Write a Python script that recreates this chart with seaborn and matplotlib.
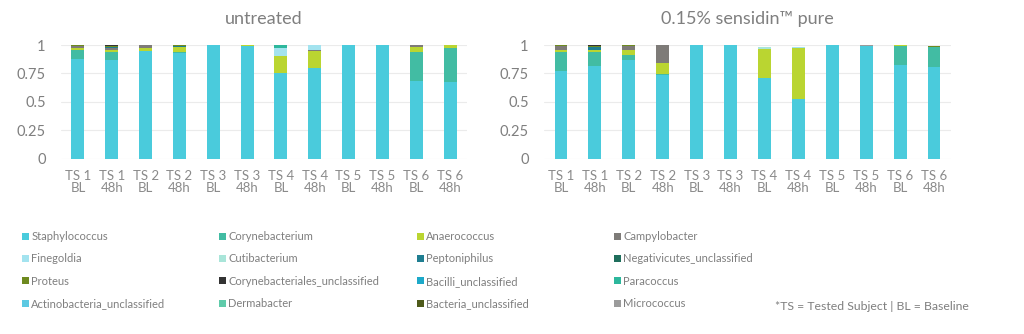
import numpy as np
import pandas as pd
import matplotlib
matplotlib.use("Agg")
import matplotlib.pyplot as plt
import seaborn as sns
from matplotlib.patches import Patch

# ---------------- data ----------------
samples = ["TS 1\nBL", "TS 1\n48h", "TS 2\nBL", "TS 2\n48h", "TS 3\nBL", "TS 3\n48h",
           "TS 4\nBL", "TS 4\n48h", "TS 5\nBL", "TS 5\n48h", "TS 6\nBL", "TS 6\n48h"]

species = ["Staphylococcus", "Corynebacterium", "Anaerococcus", "Campylobacter",
           "Finegoldia", "Cutibacterium", "Peptoniphilus", "Negativicutes_unclassified",
           "Proteus", "Corynebacteriales_unclassified", "Bacilli_unclassified", "Paracoccus",
           "Actinobacteria_unclassified", "Dermabacter", "Bacteria_unclassified", "Micrococcus"]

colors = ["#4ACBDC", "#42BCA3", "#BAD531", "#7E7B78",
          "#A3E3EF", "#A9E5D9", "#1F7E91", "#1F6E5C",
          "#6E8A1F", "#333333", "#1DA9C9", "#2DB79C",
          "#5CC9E2", "#5FCBAA", "#4E5A1A", "#9B9B9B"]

# untreated panel
u_staph   = [0.880, 0.870, 0.945, 0.930, 1.000, 0.990, 0.755, 0.795, 1.000, 1.000, 0.685, 0.675]
u_coryne  = [0.080, 0.065, 0.000, 0.010, 0.000, 0.000, 0.000, 0.000, 0.000, 0.000, 0.250, 0.300]
u_anaero  = [0.015, 0.020, 0.030, 0.040, 0.000, 0.010, 0.150, 0.155, 0.000, 0.000, 0.050, 0.025]
u_campy   = [0.012, 0.015, 0.025, 0.000, 0.000, 0.000, 0.000, 0.010, 0.000, 0.000, 0.015, 0.000]
u_finego  = [0.000, 0.000, 0.000, 0.000, 0.000, 0.000, 0.065, 0.040, 0.000, 0.000, 0.000, 0.000]
u_pepto   = [0.008, 0.010, 0.000, 0.010, 0.000, 0.000, 0.000, 0.000, 0.000, 0.000, 0.000, 0.000]
u_proteus = [0.005, 0.010, 0.000, 0.010, 0.000, 0.000, 0.000, 0.000, 0.000, 0.000, 0.000, 0.000]
u_corynu  = [0.000, 0.010, 0.000, 0.000, 0.000, 0.000, 0.000, 0.000, 0.000, 0.000, 0.000, 0.000]
u_paraco  = [0.000, 0.000, 0.000, 0.000, 0.000, 0.000, 0.030, 0.000, 0.000, 0.000, 0.000, 0.000]

# 0.15% sensidin pure panel
s_staph   = [0.775, 0.815, 0.870, 0.735, 1.000, 1.000, 0.705, 0.520, 1.000, 0.990, 0.825, 0.805]
s_coryne  = [0.160, 0.120, 0.040, 0.010, 0.000, 0.000, 0.000, 0.000, 0.000, 0.000, 0.165, 0.180]
s_anaero  = [0.025, 0.025, 0.045, 0.095, 0.000, 0.000, 0.260, 0.455, 0.000, 0.000, 0.010, 0.000]
s_campy   = [0.030, 0.000, 0.035, 0.160, 0.000, 0.000, 0.000, 0.000, 0.000, 0.000, 0.000, 0.000]
s_finego  = [0.000, 0.000, 0.000, 0.000, 0.000, 0.000, 0.000, 0.010, 0.000, 0.000, 0.000, 0.000]
s_cuti    = [0.000, 0.000, 0.000, 0.000, 0.000, 0.000, 0.020, 0.000, 0.000, 0.000, 0.000, 0.000]
s_pepto   = [0.000, 0.020, 0.000, 0.000, 0.000, 0.000, 0.000, 0.000, 0.000, 0.000, 0.000, 0.000]
s_proteus = [0.010, 0.010, 0.010, 0.000, 0.000, 0.000, 0.000, 0.000, 0.000, 0.000, 0.000, 0.010]
s_corynu  = [0.000, 0.010, 0.000, 0.000, 0.000, 0.000, 0.000, 0.000, 0.000, 0.000, 0.000, 0.000]
s_micro   = [0.000, 0.000, 0.000, 0.000, 0.000, 0.000, 0.000, 0.000, 0.000, 0.010, 0.000, 0.000]

panel_titles = ["untreated", "0.15% sensidin™ pure"]
ytick_vals = [0, 0.25, 0.5, 0.75, 1]
ytick_labels = ["0", "0.25", "0.5", "0.75", "1"]
footnote = "*TS = Tested Subject | BL = Baseline"


def build(series):
    rows = []
    for sp, vals in series.items():
        for s, v in zip(samples, vals):
            rows.append({"sample": s, "species": sp, "value": v})
    return pd.DataFrame(rows)


df_u = build({"Staphylococcus": u_staph, "Corynebacterium": u_coryne,
              "Anaerococcus": u_anaero, "Campylobacter": u_campy,
              "Finegoldia": u_finego, "Peptoniphilus": u_pepto,
              "Proteus": u_proteus, "Corynebacteriales_unclassified": u_corynu,
              "Paracoccus": u_paraco})
df_s = build({"Staphylococcus": s_staph, "Corynebacterium": s_coryne,
              "Anaerococcus": s_anaero, "Campylobacter": s_campy,
              "Finegoldia": s_finego, "Cutibacterium": s_cuti,
              "Peptoniphilus": s_pepto, "Proteus": s_proteus,
              "Corynebacteriales_unclassified": s_corynu, "Micrococcus": s_micro})

# ---------------- style ----------------
sns.set_theme(style="white")
FONT = ["Lato", "DejaVu Sans"]
plt.rcParams["font.family"] = FONT
GREY = "#7F7F7F"
LGREY = "#8A8A8A"

fig = plt.figure(figsize=(10.24, 3.34), dpi=100)
ax_pos = [[61 / 1024, 1 - 158.5 / 334, 406 / 1024, 113.5 / 334],
          [544 / 1024, 1 - 158.5 / 334, 407 / 1024, 113.5 / 334]]

palette = dict(zip(species, colors))

for pos, df, title in zip(ax_pos, [df_u, df_s], panel_titles):
    ax = fig.add_axes(pos)
    present = [sp for sp in species if sp in set(df["species"])]
    df = df.copy()
    df["sample"] = pd.Categorical(df["sample"], categories=samples, ordered=True)
    df["code"] = df["sample"].cat.codes
    sns.histplot(data=df, x="code", weights="value", hue="species",
                 hue_order=present[::-1], palette=palette, multiple="stack",
                 discrete=True, shrink=0.38, alpha=1, linewidth=0,
                 legend=False, ax=ax)
    ax.set_xlim(-0.5, len(samples) - 0.5)
    ax.set_ylim(0, 1.0)
    ax.set_yticks(ytick_vals)
    ax.set_yticklabels(ytick_labels)
    ax.set_xticks(range(len(samples)))
    ax.set_xticklabels(samples, linespacing=1.05)
    ax.set_xlabel("")
    ax.set_ylabel("")
    ax.grid(axis="y", color="#EBEBEB", linewidth=0.8)
    ax.set_axisbelow(True)
    for sp_ in ax.spines.values():
        sp_.set_visible(False)
    ax.tick_params(axis="y", length=0, pad=11, labelsize=10.5, labelcolor=GREY)
    ax.tick_params(axis="x", length=0, pad=8, labelsize=9.5, labelcolor=LGREY)
    ax.set_title(title, color=GREY, fontsize=13, pad=15)

# ---------------- legend (4 columns, row-major order) ----------------
col_x = [22 / 1024, 219 / 1024, 417 / 1024, 614 / 1024]
for c in range(4):
    idx = [r * 4 + c for r in range(4)]
    handles = [Patch(facecolor=colors[i], edgecolor="none") for i in idx]
    labels = [species[i] for i in idx]
    fig.legend(handles, labels, loc="upper left", bbox_to_anchor=(col_x[c], 1 - 231 / 334),
               frameon=False, fontsize=8, labelcolor=GREY, handlelength=0.6,
               handleheight=0.6, handletextpad=0.25, labelspacing=1.02,
               borderpad=0, borderaxespad=0)

fig.text(775 / 1024, 1 - 306 / 334, footnote, color=GREY, fontsize=8.8, va="center", ha="left")

fig.savefig("out.png", dpi=100, facecolor="white")
